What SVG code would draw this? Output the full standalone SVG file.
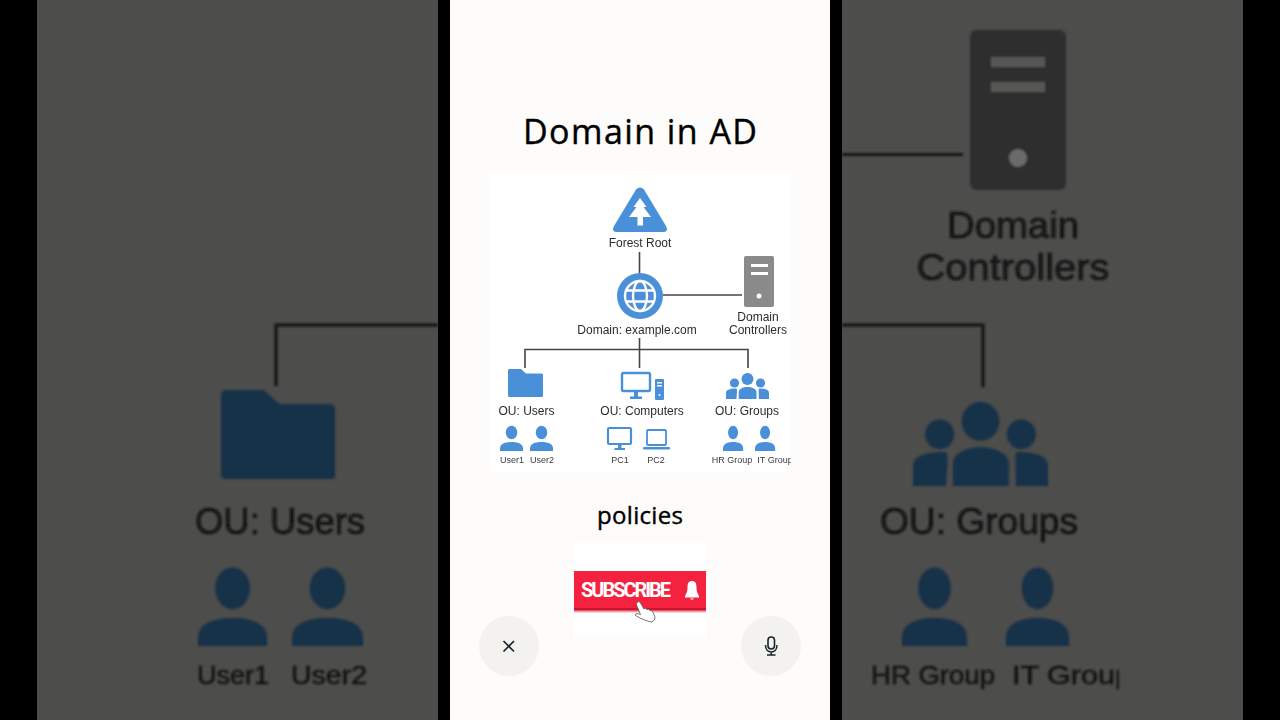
<svg xmlns="http://www.w3.org/2000/svg" width="1280" height="720" viewBox="0 0 1280 720">
<style>
text{font-family:"Liberation Sans",Arial,sans-serif;text-anchor:middle}
.t{font-size:12px;fill:#2b2b2b}
.s{font-size:9px;fill:#3a3a3a}
.b{fill:#4a90d9}
.db{fill:#16304a}
.dt{fill:#141414;font-size:36px;stroke:#141414;stroke-width:.5}
.ds{fill:#141414;font-size:26px;stroke:#141414;stroke-width:.4}
.c{fill:none;stroke:#444;stroke-width:1.6}
.dc{fill:none;stroke:#161616;stroke-width:3}
.btn{fill:#f3f2ef}
.head{font-family:"Open Sans",sans-serif;font-weight:500;fill:#000;stroke:#000;stroke-width:.4}
</style>
<defs>
<g id="person"><ellipse cx="12" cy="6.5" rx="6" ry="6.7"/><path d="M0 25V22.5C0 18 5 16 12 16S24 18 24 22.500V25Z"/></g>
<path id="folder" d="M1.500 0H13L18 4.500H33.500A1.500 1.500 0 0 1 35 6V27A1 1 0 0 1 34 28H1.500A1.500 1.500 0 0 1 0 26.500V1.500A1.500 1.500 0 0 1 1.500 0Z"/>
<g id="team"><circle cx="21.500" cy="6" r="6"/><circle cx="8.500" cy="10" r="4.600"/><circle cx="34.500" cy="10" r="4.600"/><path d="M12.700 26V19C12.700 16 17 14 21.500 14S30.500 16 30.500 19V26Z"/><path d="M0 26V20C0 17 3 15.500 10.300 15.500C11.500 16 11 19 10.500 26Z"/><path d="M43 26V20C43 17 40 15.500 33 15.500C32.400 16 32.800 19 32.800 26Z"/></g>
<clipPath id="clipCentre"><rect x="489" y="172" width="302" height="300"/></clipPath>
<clipPath id="clipRight"><rect x="842" y="0" width="277" height="720"/></clipPath>
<filter id="soft" x="-5%" y="-5%" width="110%" height="110%"><feGaussianBlur stdDeviation="0.9"/></filter>
<filter id="softer" x="-2%" y="-2%" width="104%" height="104%"><feGaussianBlur stdDeviation="0.35"/></filter>
<linearGradient id="fade" x1="0" y1="0" x2="0" y2="1"><stop offset="0" stop-color="#e8304a"/><stop offset="1" stop-color="#fff"/></linearGradient>
</defs>

<rect width="1280" height="720" fill="#000"/>
<rect x="37" y="0" width="401" height="720" fill="#4d4d4b"/>
<rect x="842" y="0" width="401" height="720" fill="#4d4d4b"/>
<rect x="450" y="0" width="380" height="720" fill="#fdfcfa"/>

<g id="backdrop-left" filter="url(#soft)">
<path class="dc" d="M438 325H276V386"/>
<use href="#folder" class="db" transform="translate(221 390) scale(3.26 3.18)"/>
<text class="dt" x="280" y="534" textLength="170" lengthAdjust="spacingAndGlyphs">OU: Users</text>
<use href="#person" class="db" transform="translate(198 568) scale(2.88 3.12)"/>
<use href="#person" class="db" transform="translate(292 568) scale(2.96 3.12)"/>
<text class="ds" x="233" y="684" textLength="72" lengthAdjust="spacingAndGlyphs">User1</text>
<text class="ds" x="329" y="684" textLength="76" lengthAdjust="spacingAndGlyphs">User2</text>
</g>

<g id="backdrop-right" filter="url(#soft)">
<path class="dc" d="M842 154.500H963"/>
<rect x="970" y="30" width="96" height="160" rx="7" fill="#2f2f2f"/>
<rect x="991" y="57" width="54" height="10" fill="#565654"/>
<rect x="991" y="82" width="54" height="10" fill="#565654"/>
<circle cx="1018" cy="158" r="9" fill="#6b6b69"/>
<text class="dt" x="1013" y="238" textLength="132" lengthAdjust="spacingAndGlyphs">Domain</text>
<text class="dt" x="1013" y="280" textLength="193" lengthAdjust="spacingAndGlyphs">Controllers</text>
<path class="dc" d="M842 325H983V387"/>
<use href="#team" class="db" transform="translate(913 402) scale(3.14 3.23)"/>
<text class="dt" x="979" y="534" textLength="198" lengthAdjust="spacingAndGlyphs">OU: Groups</text>
<use href="#person" class="db" transform="translate(902 568) scale(2.71 3.12)"/>
<use href="#person" class="db" transform="translate(1006 568) scale(2.63 3.12)"/>
<g clip-path="url(#clipRight)">
<text class="ds" x="933" y="684" textLength="124" lengthAdjust="spacingAndGlyphs">HR Group</text>
<text class="ds" x="1072" y="684" textLength="120" lengthAdjust="spacingAndGlyphs">IT Group</text>
</g>
</g>

<text id="title" class="head" x="640" y="144" textLength="234" font-size="34">Domain in AD</text>

<rect x="489" y="172" width="302" height="300" fill="#fff"/>

<g id="diagram" filter="url(#softer)">
<g id="connectors">
<path class="c" d="M639.500 252V273"/>
<path class="c" d="M663 295H742"/>
<path class="c" d="M639.500 338V368"/>
<path class="c" d="M525 368V349.500H748V368"/>
</g>

<g id="forest-root">
<path class="b" d="M636 189.500Q640 185.500 644 189.500L666 226Q669 232 663 232H617Q611 232 614 226Z"/>
<path fill="#fff" d="M640 198L646.500 207H643.500L651 217H643V225.500H637.500V217H629L636.500 207H633.500Z"/>
<text class="t" x="640" y="247">Forest Root</text>
</g>

<g id="domain">
<circle class="b" cx="640" cy="296" r="23"/>
<g fill="none" stroke="#fff" stroke-width="2.400">
<circle cx="640" cy="296" r="15"/>
<ellipse cx="640" cy="296" rx="7" ry="15"/>
<path d="M626 290.500H654M626 301.500H654"/>
</g>
<text class="t" x="637" y="334">Domain: example.com</text>
</g>

<g id="domain-controllers">
<rect x="744" y="256" width="30" height="51" rx="2" fill="#8a8a8a"/>
<rect x="751" y="264" width="17" height="3" fill="#fff"/>
<rect x="751" y="272" width="17" height="3" fill="#fff"/>
<circle cx="759" cy="296" r="2.500" fill="#fff"/>
<text class="t" x="758" y="321">Domain</text>
<text class="t" x="758" y="334">Controllers</text>
</g>

<g id="ou-users">
<use href="#folder" class="b" transform="translate(508 369)"/>
<text class="t" x="526.500" y="415">OU: Users</text>
<use href="#person" class="b" transform="translate(500 426) scale(.96 1)"/>
<use href="#person" class="b" transform="translate(530 426) scale(.96 1)"/>
<text class="s" x="512" y="463">User1</text>
<text class="s" x="542" y="463">User2</text>
</g>

<g id="ou-computers">
<rect x="622" y="373" width="28" height="18" rx="1.500" fill="none" stroke="#4a90d9" stroke-width="2.400"/>
<path class="b" d="M634 392H638V396.500H642V399H630V396.500H634Z"/>
<rect class="b" x="655" y="379" width="9" height="21" rx="1"/>
<rect x="657" y="382" width="5" height="1.500" fill="#fff"/>
<rect x="657" y="385" width="5" height="1.500" fill="#fff"/>
<circle cx="659.500" cy="395" r="1" fill="#fff"/>
<text class="t" x="642" y="415">OU: Computers</text>
<rect x="608" y="428" width="23" height="16" rx="1" fill="none" stroke="#4a90d9" stroke-width="2.200"/>
<path class="b" d="M618 445H621.500V448H625V450H614.500V448H618Z"/>
<rect x="647" y="430" width="19" height="15" rx="1" fill="none" stroke="#4a90d9" stroke-width="1.800"/>
<rect class="b" x="643" y="447" width="27" height="2.400" rx="1"/>
<text class="s" x="620" y="463">PC1</text>
<text class="s" x="656" y="463">PC2</text>
</g>

<g id="ou-groups">
<use href="#team" class="b" transform="translate(726 373)"/>
<text class="t" x="747" y="415">OU: Groups</text>
<use href="#person" class="b" transform="translate(723 426) scale(.84 1)"/>
<use href="#person" class="b" transform="translate(755 426) scale(.84 1)"/>
<g clip-path="url(#clipCentre)">
<text class="s" x="732" y="463">HR Group</text>
<text class="s" x="775" y="463">IT Group</text>
</g>
</g>
</g>

<text id="policies" class="head" x="640" y="524" textLength="86" font-size="24">policies</text>

<g id="subscribe">
<rect x="574" y="543" width="132" height="94" fill="#fff"/>
<rect x="574" y="610" width="132" height="3" fill="url(#fade)"/>
<rect x="574" y="571" width="132" height="39" fill="#f5223f"/>
<rect x="574" y="608" width="132" height="2" fill="#cc1430"/>
<text x="626" y="597" textLength="90" style="font-family:Roboto,sans-serif;font-size:20px;font-weight:700;fill:#fff">SUBSCRIBE</text>
<path fill="#fff" d="M692 581C688 581 687.500 584 687.500 588C687.500 592 686 594 685 596V597.500H699V596C698 594 696.500 592 696.500 588C696.500 584 696 581 692 581Z"/>
<path fill="#fff" d="M690 598.500H694Q692 601 690 598.500Z"/>
<path fill="#fff" stroke="#555" stroke-width=".8" stroke-linejoin="round" d="M637 602.500Q639 600.500 640.500 603L644 609Q645.500 607.500 647 609.500Q648.500 608.500 650 610.500Q652 610 653 612.500L655 617Q655.500 620 652 622L649 621.500Q644 620 640 618L635.500 615.500Q635 613.500 637.500 613.500L640.500 614.500L636.500 605Q636 603.500 637 602.500Z"/>
</g>

<g id="close-button">
<circle class="btn" cx="509" cy="646" r="30"/>
<path d="M503.500 641L514 651.500M514 641L503.500 651.500" fill="none" stroke="#16262a" stroke-width="1.700"/>
</g>

<g id="mic-button">
<circle class="btn" cx="771" cy="646" r="30"/>
<rect x="768" y="637" width="6.500" height="12" rx="3.250" fill="none" stroke="#16262a" stroke-width="1.600"/>
<path d="M765.500 645C765.500 649.500 768 652 771.250 652S777 649.500 777 645M771.250 652V654.500M767 655H775.500" fill="none" stroke="#16262a" stroke-width="1.500"/>
</g>
</svg>
